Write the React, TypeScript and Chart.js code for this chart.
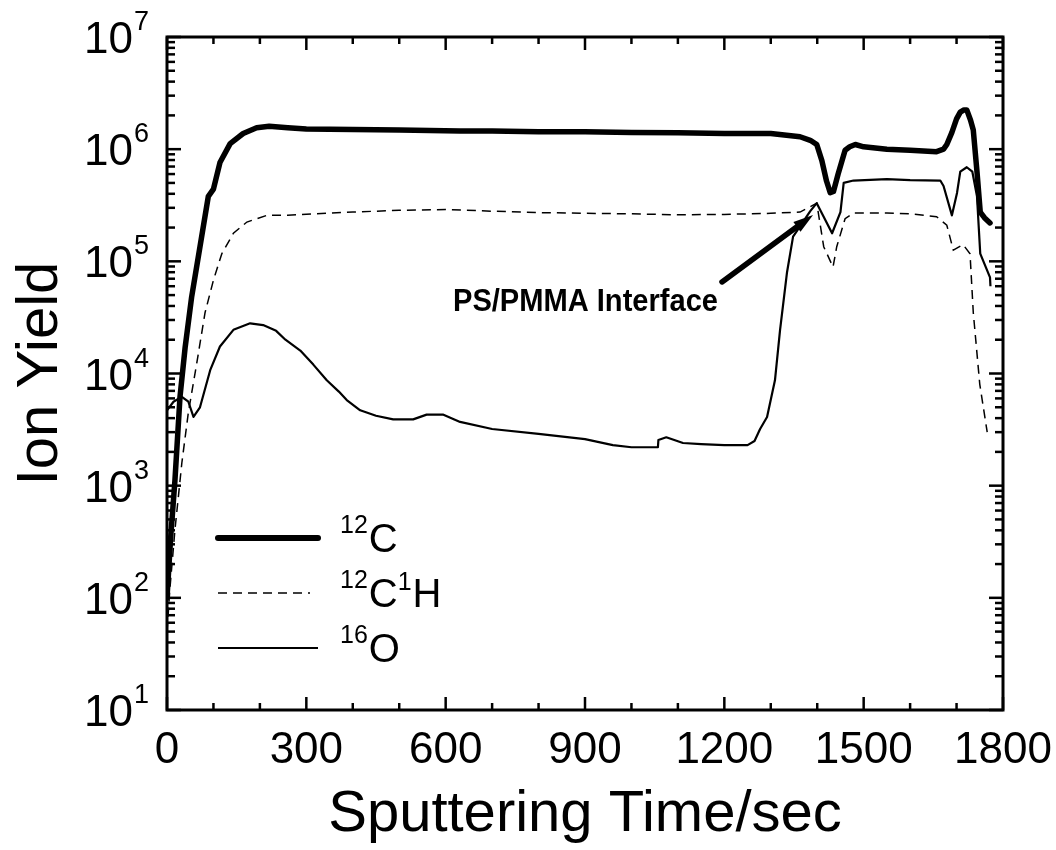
import React, { useEffect, useRef } from "react";
import { Chart, registerables } from "chart.js";

Chart.register(...registerables);

// ---------- data ----------
const c12Time = [0, 8, 17, 28, 39, 53, 71, 89, 100, 114, 136, 164, 193, 220, 260, 300, 400, 500, 631, 700, 800, 900, 1000, 1100, 1200, 1300, 1363, 1385, 1399, 1410, 1420, 1428, 1435, 1445, 1460, 1470, 1482, 1500, 1550, 1600, 1657, 1672, 1679, 1690, 1700, 1708, 1716, 1722, 1730, 1736, 1744, 1751, 1760, 1772];
const c12Yield = [100, 350, 1100, 6200, 17000, 48000, 135000, 380000, 440000, 760000, 1.12e6, 1.38e6, 1.55e6, 1.6e6, 1.55e6, 1.51e6, 1.5e6, 1.48e6, 1.45e6, 1.45e6, 1.43e6, 1.43e6, 1.41e6, 1.4e6, 1.38e6, 1.38e6, 1.29e6, 1.2e6, 1.1e6, 7.9e5, 5.2e5, 4.1e5, 4.2e5, 6.0e5, 9.8e5, 1.05e6, 1.1e6, 1.05e6, 1.0e6, 9.8e5, 9.5e5, 1.0e6, 1.1e6, 1.41e6, 1.86e6, 2.14e6, 2.24e6, 2.24e6, 1.82e6, 1.48e6, 6.3e5, 2.75e5, 2.45e5, 2.2e5];

const c12h1Time = [0, 6, 17, 32, 46, 64, 82, 100, 118, 143, 172, 215, 260, 300, 400, 500, 600, 700, 800, 900, 1000, 1100, 1200, 1300, 1363, 1399, 1414, 1434, 1442, 1460, 1478, 1550, 1600, 1657, 1679, 1693, 1714, 1729, 1736, 1750, 1766];
const c12h1Yield = [50, 117, 400, 1600, 4500, 12300, 35000, 68000, 117000, 178000, 224000, 257000, 258000, 263000, 275000, 285000, 290000, 280000, 272000, 268000, 265000, 260000, 262000, 268000, 275000, 330000, 135000, 89000, 135000, 240000, 270000, 270000, 265000, 250000, 210000, 126000, 141000, 117000, 35000, 8000, 3000];

const o16Time = [0, 14, 32, 46, 57, 71, 93, 114, 143, 179, 207, 235, 255, 287, 315, 344, 370, 387, 416, 450, 487, 530, 559, 594, 631, 700, 800, 900, 960, 1000, 1057, 1058, 1075, 1111, 1150, 1200, 1250, 1265, 1277, 1292, 1309, 1320, 1335, 1348, 1363, 1385, 1399, 1432, 1450, 1457, 1478, 1550, 1600, 1665, 1672, 1690, 1701, 1708, 1722, 1734, 1744, 1751, 1772, 1773];
const o16Yield = [4700, 5600, 6200, 5600, 4100, 5000, 10700, 17400, 24500, 28000, 27000, 24000, 20000, 16000, 12000, 8700, 6900, 5800, 4700, 4200, 3900, 3900, 4300, 4300, 3700, 3200, 2900, 2600, 2300, 2200, 2200, 2550, 2700, 2400, 2350, 2300, 2300, 2500, 3200, 4100, 8700, 24500, 80000, 166000, 205000, 280000, 330000, 178000, 275000, 500000, 525000, 540000, 530000, 525000, 470000, 257000, 407000, 630000, 690000, 630000, 380000, 117000, 72000, 60000];

const xTicks = [0, 300, 600, 900, 1200, 1500, 1800];
const yExponents = [1, 2, 3, 4, 5, 6, 7];

const annotationText = "PS/PMMA Interface";
const arrowFrom = { x: 1195, y: 65500 };
const arrowTo = { x: 1391, y: 259000 };

const FONT = "'Liberation Sans', Arial, Helvetica, sans-serif";

function pts(t: number[], v: number[]) {
  return t.map((x, i) => ({ x, y: v[i] }));
}

const framePlugin = {
  id: "frame",
  afterDraw(chart: any) {
    const ctx: CanvasRenderingContext2D = chart.ctx;
    const { left, right, top, bottom } = chart.chartArea;
    const xs = chart.scales.x;
    const ys = chart.scales.y;
    ctx.save();
    ctx.strokeStyle = "#000";
    ctx.fillStyle = "#000";
    ctx.lineCap = "butt";

    const line = (x1: number, y1: number, x2: number, y2: number) => {
      ctx.beginPath();
      ctx.moveTo(x1, y1);
      ctx.lineTo(x2, y2);
      ctx.stroke();
    };

    // ticks
    ctx.lineWidth = 2.5;
    for (let v = 0; v <= 1800; v += 100) {
      const px = xs.getPixelForValue(v);
      const len = v % 300 === 0 ? 13 : 7;
      line(px, bottom, px, bottom - len);
      line(px, top, px, top + len);
    }
    for (let e = 1; e <= 7; e++) {
      for (let m = 1; m <= 9; m++) {
        if (e === 7 && m > 1) break;
        const py = ys.getPixelForValue(m * Math.pow(10, e));
        const len = m === 1 ? 14 : 8;
        line(left, py, left + len, py);
        line(right, py, right - len, py);
      }
    }

    // frame
    ctx.lineWidth = 3;
    ctx.strokeRect(left, top, right - left, bottom - top);

    // x tick labels
    ctx.font = `44px ${FONT}`;
    ctx.textAlign = "center";
    ctx.textBaseline = "alphabetic";
    xTicks.forEach((v) => {
      ctx.fillText(String(v), xs.getPixelForValue(v), 763);
    });

    // y tick labels 10^n
    yExponents.forEach((e) => {
      const py = ys.getPixelForValue(Math.pow(10, e));
      ctx.font = `44px ${FONT}`;
      ctx.textAlign = "right";
      ctx.fillText("10", 133, py + 16);
      ctx.font = `27px ${FONT}`;
      ctx.textAlign = "left";
      ctx.fillText(String(e), 134, py - 7);
    });

    // axis titles
    ctx.font = `58px ${FONT}`;
    ctx.textAlign = "center";
    ctx.fillText("Sputtering Time/sec", (left + right) / 2, 831);
    ctx.save();
    ctx.translate(57, (top + bottom) / 2);
    ctx.rotate(-Math.PI / 2);
    ctx.fillText("Ion Yield", 0, 0);
    ctx.restore();

    // legend
    const legendRows = [
      { y: 538, w: 6, dash: [] as number[], x2: 318, sup1: "12", base1: "C", sup2: "", base2: "" },
      { y: 593, w: 1.5, dash: [9, 6], x2: 310, sup1: "12", base1: "C", sup2: "1", base2: "H" },
      { y: 648, w: 2.2, dash: [] as number[], x2: 318, sup1: "16", base1: "O", sup2: "", base2: "" },
    ];
    legendRows.forEach((r) => {
      ctx.lineWidth = r.w;
      ctx.setLineDash(r.dash);
      ctx.lineCap = r.w > 3 ? "round" : "butt";
      line(218, r.y, r.x2, r.y);
      ctx.setLineDash([]);
      let x = 340;
      ctx.textAlign = "left";
      ctx.font = `25px ${FONT}`;
      ctx.fillText(r.sup1, x, r.y - 5);
      x += ctx.measureText(r.sup1).width + 1;
      ctx.font = `40px ${FONT}`;
      ctx.fillText(r.base1, x, r.y + 14);
      x += ctx.measureText(r.base1).width;
      if (r.sup2) {
        ctx.font = `25px ${FONT}`;
        ctx.fillText(r.sup2, x, r.y - 3);
        x += ctx.measureText(r.sup2).width + 1;
        ctx.font = `40px ${FONT}`;
        ctx.fillText(r.base2, x, r.y + 14);
      }
    });
    ctx.lineCap = "butt";

    // annotation
    ctx.font = `bold 32px ${FONT}`;
    ctx.textAlign = "right";
    ctx.fillText(annotationText, 718, 311, 265);

    const ax1 = xs.getPixelForValue(arrowFrom.x);
    const ay1 = ys.getPixelForValue(arrowFrom.y);
    const ax2 = xs.getPixelForValue(arrowTo.x);
    const ay2 = ys.getPixelForValue(arrowTo.y);
    const ang = Math.atan2(ay2 - ay1, ax2 - ax1);
    const headLen = 20;
    const headW = 6;
    const bx = ax2 - headLen * Math.cos(ang);
    const by = ay2 - headLen * Math.sin(ang);
    ctx.lineWidth = 5.5;
    ctx.lineCap = "round";
    line(ax1, ay1, bx, by);
    ctx.beginPath();
    ctx.moveTo(ax2, ay2);
    ctx.lineTo(bx + headW * Math.sin(ang), by - headW * Math.cos(ang));
    ctx.lineTo(bx - headW * Math.sin(ang), by + headW * Math.cos(ang));
    ctx.closePath();
    ctx.fill();

    ctx.restore();
  },
};

export default function App() {
  const ref = useRef<HTMLCanvasElement | null>(null);
  useEffect(() => {
    if (!ref.current) return;
    const chart = new Chart(ref.current, {
      type: "line",
      data: {
        datasets: [
          {
            label: "12C",
            data: pts(c12Time, c12Yield),
            borderColor: "#000",
            borderWidth: 5.5,
            pointRadius: 0,
            tension: 0,
            borderJoinStyle: "round",
            borderCapStyle: "round",
          },
          {
            label: "12C1H",
            data: pts(c12h1Time, c12h1Yield),
            borderColor: "#000",
            borderWidth: 1.5,
            borderDash: [9, 6],
            pointRadius: 0,
            tension: 0,
          },
          {
            label: "16O",
            data: pts(o16Time, o16Yield),
            borderColor: "#000",
            borderWidth: 2.2,
            pointRadius: 0,
            tension: 0,
            borderJoinStyle: "round",
          },
        ],
      },
      options: {
        responsive: false,
        animation: false,
        events: [],
        layout: { padding: { left: 167, top: 37, right: 53, bottom: 140 } },
        scales: {
          x: { type: "linear", min: 0, max: 1800, display: false },
          y: { type: "logarithmic", min: 10, max: 1e7, display: false },
        },
        plugins: { legend: { display: false }, tooltip: { enabled: false } },
      },
      plugins: [framePlugin],
    } as any);
    return () => chart.destroy();
  }, []);
  return (
    <div style={{ position: "absolute", left: 0, top: 0, width: 1056, height: 850, background: "#fff" }}>
      <canvas ref={ref} width={1056} height={850} style={{ display: "block" }} />
    </div>
  );
}
